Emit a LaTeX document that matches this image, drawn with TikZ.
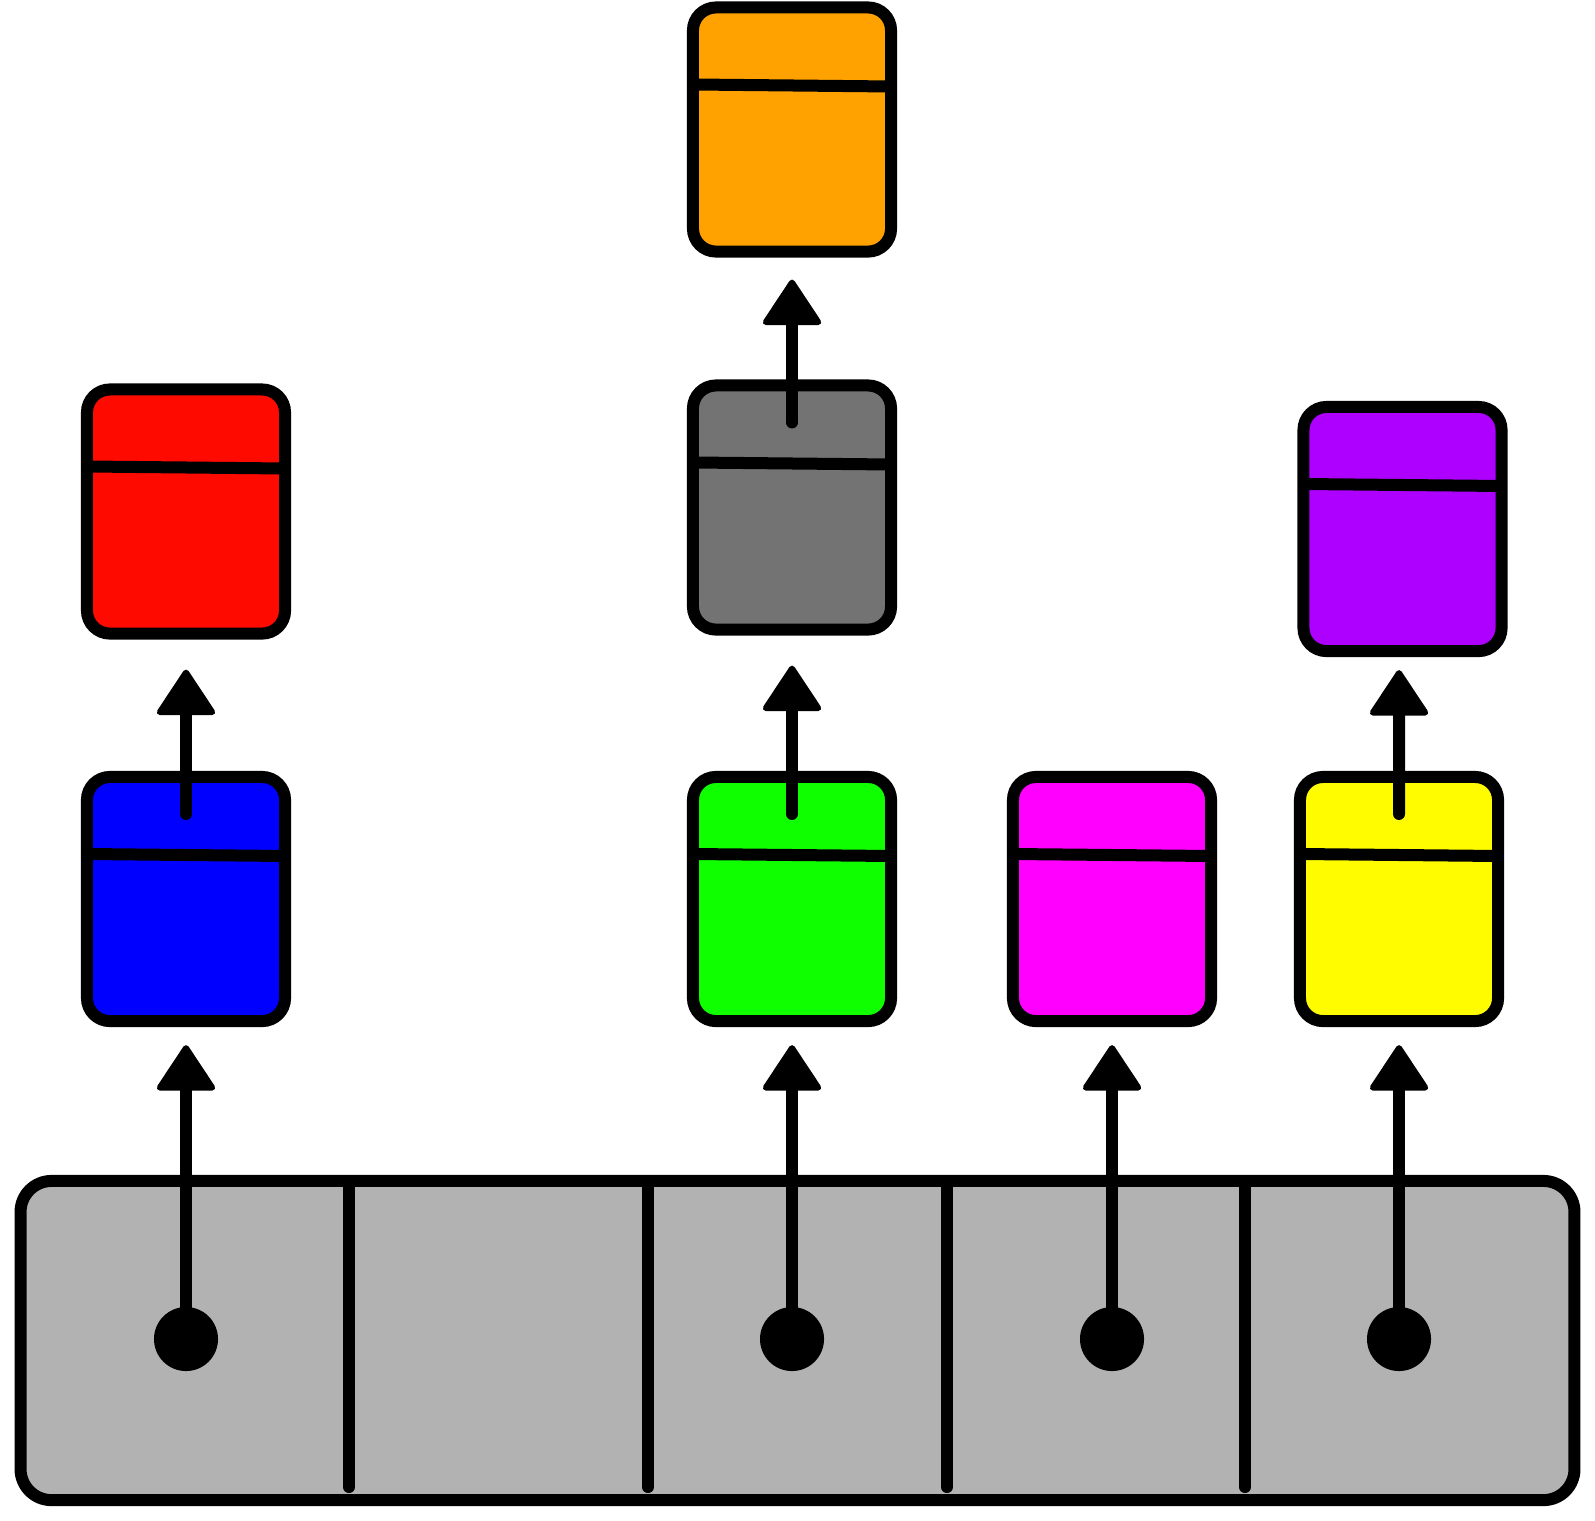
\documentclass[tikz,border=0pt]{standalone}
\usetikzlibrary{arrows.meta}

\definecolor{memgray}{RGB}{178,178,178}
\definecolor{cgray}{RGB}{115,115,115}
\definecolor{cred}{RGB}{255,10,0}
\definecolor{cblue}{RGB}{0,0,255}
\definecolor{cgreen}{RGB}{15,255,0}
\definecolor{cmagenta}{RGB}{255,0,255}
\definecolor{cyellow}{RGB}{255,252,0}
\definecolor{cpurple}{RGB}{174,0,255}
\definecolor{corange}{RGB}{255,162,0}

\begin{document}
\begin{tikzpicture}[x=0.01cm,y=-0.01cm,line width=0.12cm,
  blk/.style={draw,rectangle,rounded corners=0.23cm,minimum width=1.98cm,
    minimum height=2.44cm,inner sep=0pt,outer sep=0pt},
  dot/.style={circle,fill=black,minimum size=0.64cm,inner sep=0pt,outer sep=0pt},
  arr/.style={-{Triangle[length=0.48cm,width=0.62cm,line width=0.06cm,round]},line cap=round},
  sep/.style={line cap=round}]
\useasboundingbox (0,0) rectangle (1595,1520);

% memory bar
\node[draw,fill=memgray,rectangle,rounded corners=0.31cm,minimum width=15.53cm,
  minimum height=3.19cm,inner sep=0pt,outer sep=0pt] (mem) at (797.5,1340.5) {};
\draw[sep] (349,1181) -- (349,1487);
\draw[sep] (648,1181) -- (648,1487);
\draw[sep] (947,1181) -- (947,1487);
\draw[sep] (1245,1181) -- (1245,1487);

% blocks
\node[blk,fill=cblue] (blue) at (186,899) {};
\node[blk,fill=cgreen] (green) at (792,899) {};
\node[blk,fill=cmagenta] (magenta) at (1112,899) {};
\node[blk,fill=cyellow] (yellow) at (1399,899) {};
\node[blk,fill=cred] (red) at (186,511.5) {};
\node[blk,fill=cgray] (gray) at (792,507.5) {};
\node[blk,fill=cpurple] (purple) at (1402.5,529) {};
\node[blk,fill=corange] (orange) at (792,129.5) {};

\foreach \b in {blue,green,magenta,yellow,red,gray,purple,orange}
  \draw ([yshift=-0.77cm]\b.north west) -- ([yshift=-0.79cm]\b.north east);

% pointers
\node[dot] (p1) at (186,1339) {};
\node[dot] (p2) at (792,1339) {};
\node[dot] (p3) at (1112,1339) {};
\node[dot] (p4) at (1399,1339) {};

\draw[arr] (p1.center) -- ([yshift=-0.24cm]blue.south);
\draw[arr] (p2.center) -- ([yshift=-0.24cm]green.south);
\draw[arr] (p3.center) -- ([yshift=-0.24cm]magenta.south);
\draw[arr] (p4.center) -- ([yshift=-0.24cm]yellow.south);

\draw[arr] ([yshift=-0.37cm]blue.north) -- ([yshift=-0.36cm]red.south);
\draw[arr] ([yshift=-0.37cm]green.north) -- ([yshift=-0.36cm]gray.south);
\draw[arr] ([yshift=-0.37cm]gray.north) -- ([yshift=-0.28cm]orange.south);
\draw[arr] ([yshift=-0.37cm]yellow.north) -- ([yshift=-0.19cm,xshift=-0.035cm]purple.south);
\end{tikzpicture}
\end{document}
